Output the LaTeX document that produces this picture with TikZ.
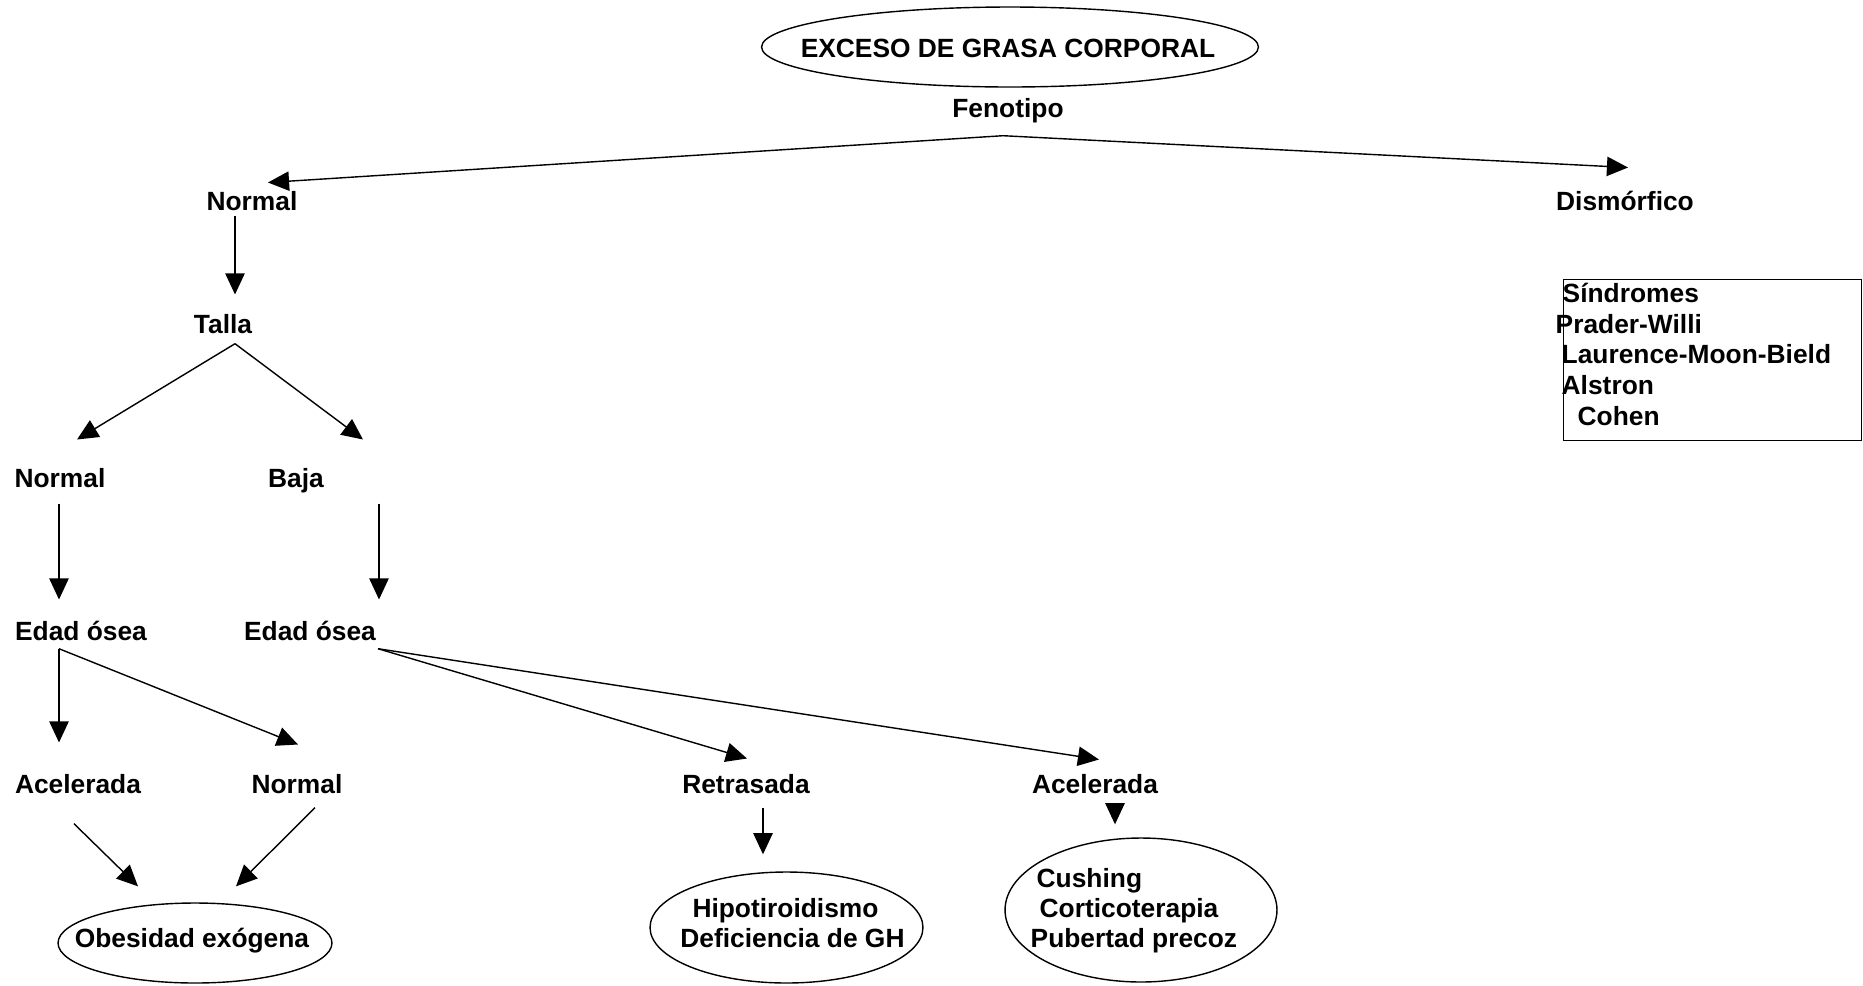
\documentclass[tikz,border=0pt]{standalone}
\usepackage{fontspec}
\setmainfont{Liberation Sans}
\usetikzlibrary{calc, arrows.meta, shapes.geometric}

\begin{document}
\begin{tikzpicture}[x=0.02cm, y=-0.02cm, line width=0.8pt,
  lbl/.style={font=\fontsize{15}{17}\selectfont\bfseries, inner sep=0pt, text height=10.7pt, text depth=0pt, anchor=base},
  oval/.style={draw, ellipse, inner sep=0pt},
  arr/.style={-{Triangle[length=12pt, width=11pt]}}]
  \useasboundingbox (0,0) rectangle (1863,985);

  % Top: Fenotipo
  \node[oval, minimum width=9.94cm, minimum height=1.6cm] (topoval) at (1010,47) {};
  \node[lbl] (exceso) at (1008,57) {EXCESO DE GRASA CORPORAL};
  \node[lbl] (feno) at (1008,117) {Fenotipo};
  \node[lbl] (normtop) at (252,210) {Normal};
  \node[lbl] (dism) at (1625,210) {Dismórfico};
  \coordinate (fenoapex) at ($(feno.south)+(-5,18)$);
  \draw[arr] (fenoapex) -- ($(normtop.north)+(16,-8)$);
  \draw[arr] (fenoapex) -- ($(dism.north)+(3,-23)$);

  % Dismorfico box
  \node[draw, rectangle, inner sep=0pt, anchor=north west, minimum width=5.96cm, minimum height=3.22cm] (sind) at (1563,279) {};
  \foreach \i/\x/\y/\t in {1/1562/302/Síndromes, 2/1555/333/Prader-Willi, 3/1561/363/Laurence-Moon-Bield, 4/1561/394/Alstron, 5/1577/425/Cohen}
    \node[lbl, anchor=base west] (sind\i) at (\x,\y) {\t};

  % Talla
  \node[lbl] (talla) at (223,333) {Talla};
  \draw[arr] ($(normtop.south)+(-17,5)$) -- ($(talla.north)+(12,-19)$);
  \node[lbl] (normleft) at (60,487) {Normal};
  \node[lbl] (baja) at (296,487) {Baja};
  \coordinate (tallaapex) at ($(talla.south)+(12,10)$);
  \draw[arr] (tallaapex) -- ($(normleft.north)+(17,-28)$);
  \draw[arr] (tallaapex) -- ($(baja.north)+(67,-28)$);

  % Edad osea
  \node[lbl] (edadL) at (81,640) {Edad ósea};
  \node[lbl] (edadR) at (310,640) {Edad ósea};
  \draw[arr] ($(normleft.south)+(-1,16)$) -- ($(edadL.north)+(-22,-21)$);
  \draw[arr] ($(baja.south)+(83,16)$) -- ($(edadR.north)+(69,-21)$);

  \node[lbl] (acelL) at (78,793) {Acelerada};
  \node[lbl] (normbot) at (297,793) {Normal};
  \node[lbl] (retr) at (746,793) {Retrasada};
  \node[lbl] (acelR) at (1095,793) {Acelerada};
  \coordinate (edadLapex) at ($(edadL.south)+(-22,8)$);
  \draw[arr] (edadLapex) -- ($(acelL.north)+(-19,-31)$);
  \draw[arr] (edadLapex) -- ($(normbot.north)+(1,-29)$);
  \coordinate (edadRapex) at ($(edadR.south)+(68,8)$);
  \draw[arr] (edadRapex) -- ($(retr.north)+(1,-15)$);
  \draw[arr] (edadRapex) -- ($(acelR.north)+(4,-14)$);

  % Diagnoses
  \node[oval, minimum width=5.48cm, minimum height=1.6cm] (obesoval) at (195,943) {};
  \node[lbl] (obes) at (192,947) {Obesidad exógena};
  \node[oval, minimum width=5.46cm, minimum height=2.22cm] (hipooval) at (786.5,927.5) {};
  \node[lbl] (hipo1) at (785.5,917) {Hipotiroidismo};
  \node[lbl] (hipo2) at (792.5,947) {Deficiencia de GH};
  \node[oval, minimum width=5.44cm, minimum height=2.88cm] (cushoval) at (1141,910) {};
  \node[lbl, anchor=base west] (cush1) at (1036,887) {Cushing};
  \node[lbl, anchor=base west] (cush2) at (1039,917) {Corticoterapia};
  \node[lbl, anchor=base west] (cush3) at (1030,947) {Pubertad precoz};

  \draw[arr] ($(acelL.south)+(-4,30)$) -- ($(obesoval.north)+(-57,-16)$);
  \draw[arr] ($(normbot.south)+(18,14)$) -- ($(obesoval.north)+(41,-16)$);
  \draw[arr] ($(retr.south)+(17,14)$) -- ($(hipooval.north)+(-23.5,-17)$);
  \draw[arr] ($(acelR.south)+(20,10)$) -- ($(cushoval.north)+(-26,-13)$);
\end{tikzpicture}
\end{document}
